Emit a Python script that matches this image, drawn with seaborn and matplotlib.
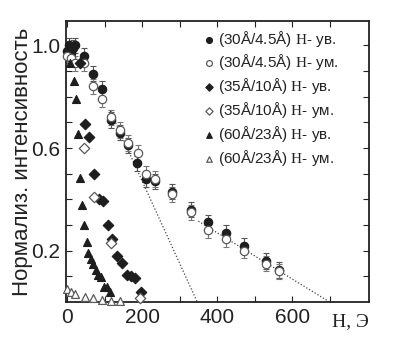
import numpy as np
import matplotlib
matplotlib.use("Agg")
import matplotlib.pyplot as plt
import matplotlib.ticker as mticker
import seaborn as sns

# ─── DATA ────────────────────────────────────────────────────────────────────
h_30_up = [0, 5, 10, 15, 20, 45, 70, 94, 118, 141, 163, 186, 210, 233, 280, 330, 376, 424, 472, 530, 566]
i_30_up = [0.98, 1.0, 0.97, 0.99, 1.0, 0.96, 0.89, 0.83, 0.71, 0.66, 0.61, 0.54, 0.48, 0.47, 0.43, 0.36, 0.31, 0.27, 0.22, 0.16, 0.125]

h_30_dn = [0, 10, 20, 45, 70, 94, 118, 141, 163, 190, 210, 235, 280, 330, 376, 424, 472, 530, 566]
i_30_dn = [0.96, 0.95, 0.93, 0.93, 0.84, 0.79, 0.72, 0.67, 0.62, 0.58, 0.50, 0.48, 0.42, 0.35, 0.28, 0.245, 0.20, 0.15, 0.12]

h_35_up = [35, 48, 59, 72, 85, 96, 108, 120, 134, 147, 160, 170, 182, 196]
i_35_up = [0.93, 0.695, 0.645, 0.50, 0.40, 0.395, 0.30, 0.245, 0.18, 0.152, 0.107, 0.10, 0.095, 0.04]

h_35_dn = [46, 72, 118, 194]
i_35_dn = [0.60, 0.41, 0.23, 0.015]

h_60_up = [8, 19, 24, 29, 35, 40, 45, 53, 56, 63, 68, 77, 83, 90, 99, 106, 114]
i_60_up = [0.93, 0.86, 0.79, 0.655, 0.485, 0.38, 0.30, 0.233, 0.19, 0.167, 0.15, 0.125, 0.105, 0.097, 0.06, 0.058, 0.04]

h_60_dn = [0, 10, 20, 48, 70, 94, 116, 140]
i_60_dn = [0.05, 0.04, 0.03, 0.018, 0.014, 0.008, 0.005, 0.004]

err_30 = 0.03

# dotted guide lines (end points)
fit1_h = [115, 347]
fit1_i = [0.745, 0.0]
fit2_h = [350, 700]
fit2_i = [0.315, 0.0]

labels = ["(30Å/4.5Å) $\\mathrm{H}$- ув.", "(30Å/4.5Å) $\\mathrm{H}$- ум.",
          "(35Å/10Å) $\\mathrm{H}$- ув.", "(35Å/10Å) $\\mathrm{H}$- ум.",
          "(60Å/23Å) $\\mathrm{H}$- ув.", "(60Å/23Å) $\\mathrm{H}$- ум."]
# ─────────────────────────────────────────────────────────────────────────────

sns.set_style("ticks")
plt.rcParams['font.family'] = ['Liberation Sans', 'DejaVu Sans']
plt.rcParams['mathtext.fontset'] = 'custom'
plt.rcParams['mathtext.rm'] = 'Liberation Serif'

fig = plt.figure(figsize=(4.0, 3.63), dpi=100)
ax = fig.add_axes([0.165, 0.168, 0.7575, 0.774])

dark = '#1e1e1e'
grey = '#5a5a5a'

# guide lines
sns.lineplot(x=fit1_h, y=fit1_i, ax=ax, color='#444444', lw=0.9, linestyle=(0, (1, 1.6)), legend=False)
sns.lineplot(x=fit2_h, y=fit2_i, ax=ax, color='#444444', lw=0.9, linestyle=(0, (1, 1.6)), legend=False)

# error bars for the 30/4.5 series
ax.errorbar(h_30_up, i_30_up, yerr=err_30, fmt='none', ecolor='#555555', elinewidth=0.8, capsize=2, capthick=0.8)
ax.errorbar(h_30_dn, i_30_dn, yerr=err_30, fmt='none', ecolor='#777777', elinewidth=0.8, capsize=2, capthick=0.8)

series = [
    (h_30_up, i_30_up, 'o', dark, dark, 36),
    (h_30_dn, i_30_dn, 'o', 'white', grey, 36),
    (h_35_up, i_35_up, 'D', dark, dark, 28),
    (h_35_dn, i_35_dn, 'D', 'white', grey, 28),
    (h_60_up, i_60_up, '^', dark, dark, 32),
    (h_60_dn, i_60_dn, '^', 'white', grey, 32),
]
for (hx, iy, mk, fc, ec, sz), lab in zip(series, labels):
    sns.scatterplot(x=hx, y=iy, ax=ax, marker=mk, s=sz, facecolor=fc, edgecolor=ec,
                    linewidth=0.9, label=lab, clip_on=False, zorder=3)

ax.set_xlim(-3, 805)
ax.set_ylim(0, 1.095)

ax.xaxis.set_major_locator(mticker.FixedLocator([0, 200, 400, 600]))
ax.xaxis.set_minor_locator(mticker.FixedLocator([100, 300, 500, 700]))
ax.yaxis.set_major_locator(mticker.FixedLocator([0.2, 0.6, 1.0]))
ax.yaxis.set_minor_locator(mticker.FixedLocator([0.1, 0.3, 0.4, 0.5, 0.7, 0.8, 0.9]))
ax.yaxis.set_major_formatter(mticker.FormatStrFormatter('%.1f'))

ax.tick_params(which='both', direction='in', top=True, right=True, length=4, width=0.8,
               labelsize=15, pad=4, colors='#222222')
for sp in ax.spines.values():
    sp.set_linewidth(1.3)
    sp.set_color('#222222')

ax.set_ylabel('Нормализ. интенсивность', fontsize=16, color='#222222', labelpad=-1)
ax.text(755, -0.045, 'H, Э', family='Liberation Serif', fontsize=14, ha='center', va='top',
        color='#222222', transform=ax.transData)

leg = ax.legend(loc='upper left', bbox_to_anchor=(0.425, 0.995), frameon=False, fontsize=11,
                handletextpad=0.1, labelspacing=0.25, markerscale=0.7, borderaxespad=0,
                handlelength=1.0)
for t in leg.get_texts():
    t.set_color('#222222')

fig.savefig('out.png', dpi=100)
